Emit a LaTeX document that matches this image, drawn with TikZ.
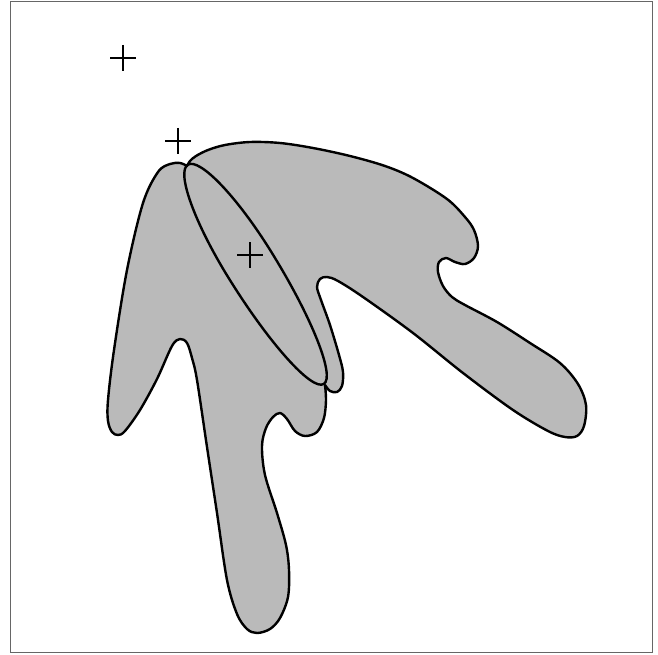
\documentclass[tikz,border=0pt]{standalone}
\usepackage{tikz}
\usetikzlibrary{calc}

\tikzset{
  blob/.style={fill=black!27, draw=black, line width=2.4pt, line join=round},
  outline/.style={draw=black, line width=2.4pt},
  plusmark/.style={line width=2pt},
  frame/.style={draw=black!60, line width=1pt}
}

\begin{document}
\begin{tikzpicture}[x=1pt, y=-1pt]
    \useasboundingbox (0,0) rectangle (658,655);
    \draw[frame] (10,2) rectangle (652,652);

    \filldraw[blob] plot[smooth, tension=0.55] coordinates {
        (187,166) (180,163) (170,164) (158,172) (143,203) (127,270)
        (114,350) (108,400) (108,421) (112,432) (118,435) (125,431)
        (140,410) (157,379) (172,346) (180,339) (187,343) (192,358)
        (197,380) (207,447) (217,513) (227,580) (237,614) (247,629)
        (257,633) (270,629) (280,618) (288,597) (289,570) (286,545)
        (277,513) (265,475) (262,446) (266,428) (273,417) (280,413)
        (287,419) (295,431) (305,436) (317,432) (324,418) (326,400)
        (325,385)}
      -- plot[smooth, tension=0.55] coordinates {
        (325,385) (330,391) (337,392) (342,386) (343,372) (339,355)
        (330,325) (321,300) (317,287) (320,279) (327,277) (338,281)
        (363,297) (413,333) (463,373) (513,410) (548,431) (565,437)
        (577,436) (584,426) (586,405) (578,384) (560,363) (530,343)
        (497,322) (465,305) (452,297) (443,286) (438,272) (439,262)
        (446,258) (455,262) (465,264) (474,258) (478,246) (474,230)
        (465,217) (447,199) (413,178) (385,166) (350,156) (313,148)
        (280,143) (250,142) (225,145) (208,150) (196,156) (190,161)
        (187,166)}
      -- cycle;

    \begin{scope}[shift={(250,265)}, rotate=-58.2]
        \draw[outline] (-118,0)
            arc[start angle=180, end angle=90, x radius=118, y radius=25]
            arc[start angle=90, end angle=0, x radius=140, y radius=25]
            arc[start angle=0, end angle=-90, x radius=140, y radius=25]
            arc[start angle=-90, end angle=-180, x radius=118, y radius=25]
            -- cycle;
    \end{scope}

    \foreach \px/\py in {123/58, 178/141, 250/255}
        \draw[plusmark] (\px,\py) +(-13,0) -- +(13,0) +(0,-13) -- +(0,13);
\end{tikzpicture}
\end{document}
